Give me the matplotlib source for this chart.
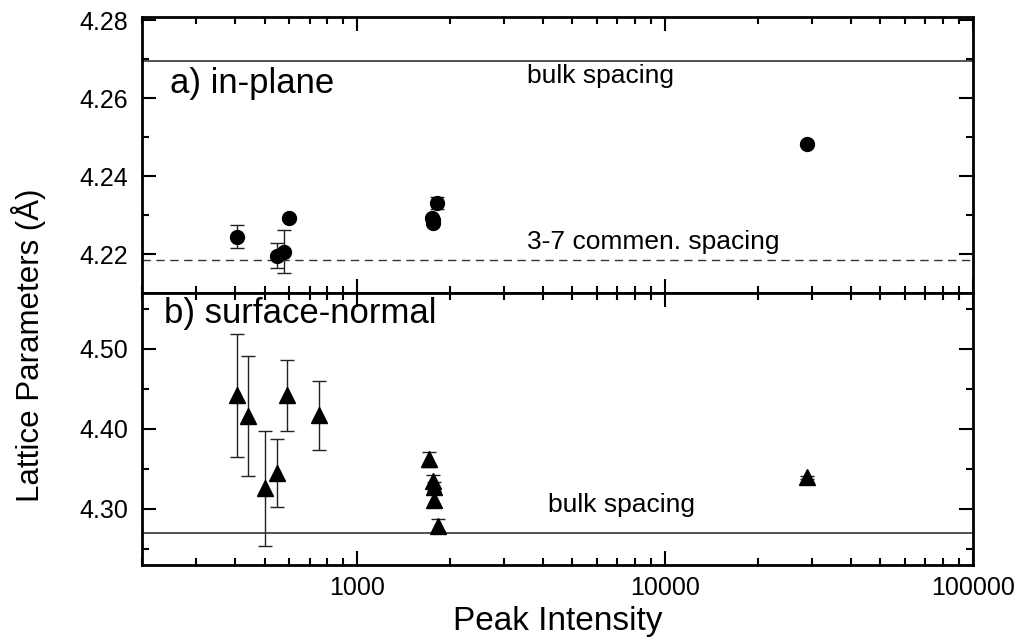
import numpy as np
import matplotlib
matplotlib.use("Agg")
import matplotlib.pyplot as plt
from matplotlib.ticker import (LogLocator, FixedLocator, NullFormatter,
                               FixedFormatter, FormatStrFormatter)

plt.rcParams['font.family'] = ['Liberation Sans', 'DejaVu Sans']

# a) in-plane data (circles)
inplane_x = [406, 550, 580, 599, 1755, 1758, 1762, 1811, 28900]
inplane_y = [4.2245, 4.2196, 4.2207, 4.2292, 4.2294, 4.2287, 4.2280, 4.2332, 4.2482]
inplane_err = [0.0030, 0.0032, 0.0055, 0.0004, 0.0005, 0.0005, 0.0005, 0.0015, 0.0004]

# b) surface-normal data (triangles)
normal_x = [406, 442, 501, 548, 591, 750, 1714, 1760, 1775, 1770, 1824, 28900]
normal_y = [4.442, 4.416, 4.326, 4.345, 4.442, 4.417, 4.362, 4.335, 4.328, 4.311, 4.279, 4.3396]
normal_err = [0.077, 0.075, 0.072, 0.042, 0.044, 0.043, 0.009, 0.007, 0.006, 0.009, 0.008, 0.002]

bulk_inplane = 4.2695
commen_inplane = 4.2185
bulk_normal = 4.2695

fig = plt.figure(figsize=(10.2, 6.41), dpi=100)
ax1 = fig.add_axes([0.1392, 0.5429, 0.8148, 0.4306])
ax2 = fig.add_axes([0.1392, 0.1186, 0.8148, 0.4243], sharex=ax1)

ax1.errorbar(inplane_x, inplane_y, yerr=inplane_err, fmt='o', color='black',
             ms=10, ecolor='#222222', elinewidth=1, capsize=5, capthick=1)
ax1.axhline(bulk_inplane, color='#333333', lw=1.2)
ax1.axhline(commen_inplane, color='#333333', lw=1, ls=(0, (6, 4)))

ax2.errorbar(normal_x, normal_y, yerr=normal_err, fmt='^', color='black',
             ms=11, ecolor='#222222', elinewidth=1, capsize=5, capthick=1)
ax2.axhline(bulk_normal, color='#333333', lw=1.2)

ax1.set_xscale('log')
ax1.set_xlim(200, 100000)
ax1.set_ylim(4.2101, 4.2808)
ax2.set_ylim(4.23, 4.57)

ax1.set_yticks([4.22, 4.24, 4.26, 4.28])
ax1.yaxis.set_minor_locator(FixedLocator([4.23, 4.25, 4.27]))
ax2.set_yticks([4.30, 4.40, 4.50])
ax2.yaxis.set_major_formatter(FormatStrFormatter('%.2f'))
ax2.yaxis.set_minor_locator(FixedLocator([4.25, 4.35, 4.45, 4.55]))

ax2.xaxis.set_major_locator(FixedLocator([1000, 10000, 100000]))
ax2.xaxis.set_major_formatter(FixedFormatter(['1000', '10000', '100000']))
ax2.xaxis.set_minor_locator(LogLocator(base=10, subs=np.arange(2, 10), numticks=20))
ax2.xaxis.set_minor_formatter(NullFormatter())
plt.setp(ax1.get_xticklabels(), visible=False)

for ax in (ax1, ax2):
    for s in ax.spines.values():
        s.set_linewidth(2)
    ax.tick_params(which='both', direction='in', top=True, right=True, width=1.5)
    ax.tick_params(which='major', length=10, labelsize=18)
    ax.tick_params(which='minor', length=5)
    ax.tick_params(axis='y', which='major', pad=10)
    ax.tick_params(axis='x', which='major', pad=8)

ax1.text(3548, 4.2639, 'bulk spacing', fontsize=19, ha='left', va='baseline')
ax1.text(3548, 4.2214, '3-7 commen. spacing', fontsize=19, ha='left', va='baseline')
ax1.text(0.034, 0.724, 'a) in-plane', transform=ax1.transAxes, fontsize=25,
         ha='left', va='baseline')

ax2.text(4150, 4.296, 'bulk spacing', fontsize=19, ha='left', va='baseline')
ax2.text(0.026, 0.889, 'b) surface-normal', transform=ax2.transAxes, fontsize=25,
         ha='left', va='baseline')

fig.text(0.028, 0.462, 'Lattice Parameters (Å)', rotation=90, fontsize=22.5,
         ha='center', va='center')
fig.text(0.5466, 0.0172, 'Peak Intensity', fontsize=24, ha='center', va='baseline')

fig.savefig('out.png', dpi=100)
